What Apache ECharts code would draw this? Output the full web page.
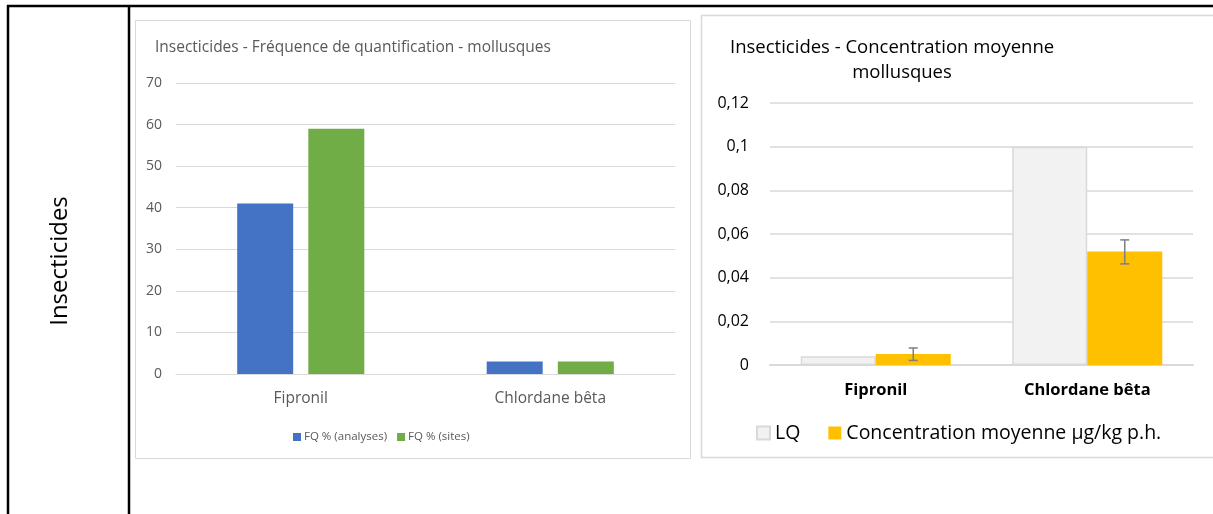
<!DOCTYPE html>
<html>
<head>
<meta charset="utf-8">
<script src="https://cdn.jsdelivr.net/npm/echarts@6/dist/echarts.min.js"></script>
<style>
  html, body { margin: 0; padding: 0; background: #fff; }
  #chart { width: 1213px; height: 514px; }
</style>
</head>
<body>
<div id="chart"></div>
<script>
// left chart: quantification frequency
const categories = ['Fipronil', 'Chlordane bêta'];
const fqAnalyses = [41, 3];
const fqSites = [59, 3];
const fqTicks = [0, 10, 20, 30, 40, 50, 60, 70];

// right chart: mean concentration
const lqValues = [0.004, 0.1];
const concValues = [0.005, 0.052];
const concErrLow = [0.0021, 0.0463];
const concErrHigh = [0.0078, 0.0573];
const concTicks = [0, 0.02, 0.04, 0.06, 0.08, 0.1, 0.12];

const chart = echarts.init(document.getElementById('chart'));
const FONT = '"Open Sans", "Noto Sans", sans-serif';
const grey = '#595959';

const errData = categories.map((c, i) => [i, concErrLow[i], concErrHigh[i]]);

chart.setOption({
  animation: false,
  textStyle: { fontFamily: FONT },
  title: [
    {
      text: 'Insecticides - Fréquence de quantification - mollusques',
      left: 150, top: 35,
      textStyle: { fontSize: 15.5, fontWeight: 'normal', color: grey, fontFamily: FONT },
    },
    {
      text: 'Insecticides - Concentration moyenne',
      left: 725, top: 33,
      textStyle: { fontSize: 18.5, fontWeight: 'normal', color: '#000', fontFamily: FONT },
    },
    {
      text: 'mollusques',
      left: 897, top: 58, textAlign: 'center',
      textStyle: { fontSize: 18.5, fontWeight: 'normal', color: '#000', fontFamily: FONT },
    },
  ],
  legend: [
    {
      data: ['FQ % (analyses)', 'FQ % (sites)'],
      left: 288, top: 426,
      itemWidth: 8, itemHeight: 8, itemGap: 10,
      icon: 'rect',
      textStyle: { fontSize: 11.5, color: grey, fontFamily: FONT, padding: [0, 0, 0, -2] },
    },
    {
      data: ['LQ', 'Concentration moyenne µg/kg p.h.'],
      left: 751, top: 418,
      itemWidth: 13, itemHeight: 13, itemGap: 28,
      icon: 'rect',
      textStyle: { fontSize: 19.5, color: '#000', fontFamily: FONT },
    },
  ],
  grid: [
    { left: 176, right: 538, top: 83, bottom: 140 },
    { left: 770, right: 20, top: 103, bottom: 149 },
  ],
  xAxis: [
    {
      gridIndex: 0, type: 'category', data: categories,
      axisTick: { show: false },
      axisLine: { lineStyle: { color: '#d9d9d9' } },
      axisLabel: { color: grey, fontSize: 15.5, margin: 17 },
    },
    {
      gridIndex: 1, type: 'category', data: categories,
      axisTick: { show: false },
      axisLine: { lineStyle: { color: '#d9d9d9', width: 2 } },
      axisLabel: { color: '#000', fontSize: 16.5, fontWeight: 'bold', margin: 17 },
    },
  ],
  yAxis: [
    {
      gridIndex: 0, type: 'value',
      min: fqTicks[0], max: fqTicks[fqTicks.length - 1], interval: fqTicks[1] - fqTicks[0],
      axisLine: { show: false }, axisTick: { show: false },
      splitLine: { lineStyle: { color: '#d9d9d9' } },
      axisLabel: { color: grey, fontSize: 14, margin: 14 },
    },
    {
      gridIndex: 1, type: 'value',
      min: concTicks[0], max: concTicks[concTicks.length - 1], interval: concTicks[1] - concTicks[0],
      axisLine: { show: false }, axisTick: { show: false },
      splitLine: { lineStyle: { color: '#d9d9d9', width: 1.5 } },
      axisLabel: {
        color: '#000', fontSize: 16, margin: 21,
        formatter: (v) => String(+v.toFixed(2)).replace('.', ','),
      },
    },
  ],
  series: [
    {
      name: 'FQ % (analyses)', type: 'bar', xAxisIndex: 0, yAxisIndex: 0,
      data: fqAnalyses, barWidth: 56, barGap: '27%',
      itemStyle: { color: '#4472c4' },
    },
    {
      name: 'FQ % (sites)', type: 'bar', xAxisIndex: 0, yAxisIndex: 0,
      data: fqSites, barWidth: 56, barGap: '27%',
      itemStyle: { color: '#70ad47' },
    },
    {
      name: 'LQ', type: 'bar', xAxisIndex: 1, yAxisIndex: 1,
      data: lqValues, barWidth: 75, barGap: 0,
      itemStyle: { color: '#f2f2f2', borderColor: '#d9d9d9', borderWidth: 1.5 },
    },
    {
      name: 'Concentration moyenne µg/kg p.h.', type: 'bar', xAxisIndex: 1, yAxisIndex: 1,
      data: concValues, barWidth: 75, barGap: 0,
      itemStyle: { color: '#ffc000' },
    },
    {
      type: 'custom', xAxisIndex: 1, yAxisIndex: 1,
      data: errData,
      z: 10,
      renderItem: (params, api) => {
        const lo = api.coord([api.value(0), api.value(1)]);
        const hi = api.coord([api.value(0), api.value(2)]);
        const x = lo[0] + 37.5;
        const half = 4.5;
        const style = { stroke: '#7f7f7f', lineWidth: 1.5 };
        return {
          type: 'group',
          children: [
            { type: 'line', shape: { x1: x, y1: lo[1], x2: x, y2: hi[1] }, style },
            { type: 'line', shape: { x1: x - half, y1: lo[1], x2: x + half, y2: lo[1] }, style },
            { type: 'line', shape: { x1: x - half, y1: hi[1], x2: x + half, y2: hi[1] }, style },
          ],
        };
      },
    },
  ],
  graphic: [
    // table frame
    { type: 'line', shape: { x1: 7, y1: 6, x2: 1213, y2: 6 }, style: { stroke: '#000', lineWidth: 2.5 } },
    { type: 'line', shape: { x1: 8, y1: 5, x2: 8, y2: 514 }, style: { stroke: '#000', lineWidth: 2.5 } },
    { type: 'line', shape: { x1: 129, y1: 5, x2: 129, y2: 514 }, style: { stroke: '#000', lineWidth: 2.5 } },
    // chart boxes
    { type: 'rect', shape: { x: 135.5, y: 20.5, width: 555, height: 438 }, style: { fill: 'none', stroke: '#d9d9d9', lineWidth: 1 }, z: -1 },
    { type: 'rect', shape: { x: 701.5, y: 15.5, width: 520, height: 442 }, style: { fill: 'none', stroke: '#d9d9d9', lineWidth: 1.5 }, z: -1 },
    // row header
    {
      type: 'text', x: 60, y: 261, rotation: Math.PI / 2,
      style: { text: 'Insecticides', font: '24px "Open Sans", sans-serif', fill: '#000', align: 'center', verticalAlign: 'middle' },
    },
  ],
});
</script>
</body>
</html>
